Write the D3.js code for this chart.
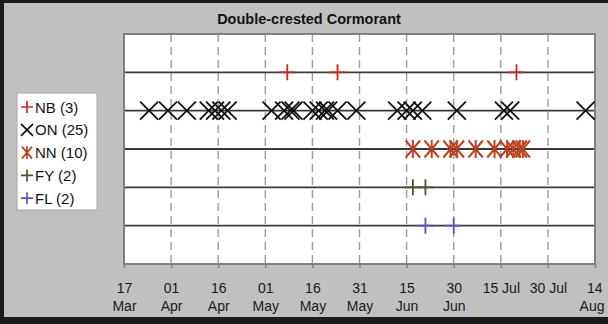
<!DOCTYPE html>
<html><head><meta charset="utf-8">
<script src="https://cdn.jsdelivr.net/npm/d3@7"></script>
<style>html,body{margin:0;padding:0;background:#c0c0c0;overflow:hidden;}svg{display:block;font-family:"Liberation Sans",Arial,sans-serif;}</style>
</head><body>
<script>
// ---- data ----
const title = "Double-crested Cormorant";
const categories = ["NB", "ON", "NN", "FY", "FL"];
const nbDates = ["2013-05-08", "2013-05-24", "2013-07-20"];
const onDates = ["2013-03-25", "2013-03-31", "2013-04-06", "2013-04-13", "2013-04-15", "2013-04-17", "2013-04-19",
  "2013-05-03", "2013-05-07", "2013-05-09", "2013-05-10", "2013-05-16", "2013-05-18", "2013-05-20", "2013-05-21",
  "2013-05-24", "2013-05-30", "2013-06-12", "2013-06-15", "2013-06-17", "2013-06-20", "2013-07-01", "2013-07-16",
  "2013-07-18", "2013-08-11"];
const nnDates = ["2013-06-17", "2013-06-23", "2013-06-29", "2013-07-01", "2013-07-07", "2013-07-13", "2013-07-17",
  "2013-07-19", "2013-07-21", "2013-07-22"];
const fyDates = ["2013-06-17", "2013-06-21"];
const flDates = ["2013-06-21", "2013-06-30"];
const tickDates = ["2013-03-17", "2013-04-01", "2013-04-16", "2013-05-01", "2013-05-16", "2013-05-31",
  "2013-06-15", "2013-06-30", "2013-07-15", "2013-07-30", "2013-08-14"];
const tickLine1 = ["17", "01", "16", "01", "16", "31", "15", "30", "15 Jul", "30 Jul", "14"];
const tickLine2 = ["Mar", "Apr", "Apr", "May", "May", "May", "Jun", "Jun", "", "", "Aug"];

// ---- styles ----
const seriesStyle = {
  NB: {dates: nbDates, color: "#c42a2a", shape: "plus"},
  ON: {dates: onDates, color: "#111111", shape: "x"},
  NN: {dates: nnDates, color: "#bd4320", shape: "star"},
  FY: {dates: fyDates, color: "#4b5327", shape: "plus"},
  FL: {dates: flDates, color: "#6a4cc0", shape: "plus"}
};
const W = 608, H = 324;
const M = {left: 124, right: 595, top: 34, bottom: 264};
const parse = d3.utcParse("%Y-%m-%d");

const svg = d3.select("body").append("svg").attr("width", W).attr("height", H);
svg.append("rect").attr("width", W).attr("height", H).attr("fill", "#c0c0c0");
// dark frame edges
svg.append("rect").attr("x", 0).attr("y", 0).attr("width", W).attr("height", 3).attr("fill", "#1c1c1c");
svg.append("rect").attr("x", 0).attr("y", 0).attr("width", 4).attr("height", H).attr("fill", "#1c1c1c");
svg.append("rect").attr("x", 0).attr("y", 317).attr("width", W).attr("height", 7).attr("fill", "#1c1c1c");

const x = d3.scaleUtc().domain([parse(tickDates[0]), parse(tickDates[tickDates.length - 1])]).range([M.left, M.right]);
const y = d3.scalePoint().domain(categories).range([M.top, M.bottom]).padding(1);

svg.append("rect").attr("x", M.left).attr("y", M.top).attr("width", M.right - M.left).attr("height", M.bottom - M.top)
  .attr("fill", "#ffffff");

// vertical dashed gridlines
const ticks = tickDates.map(parse);
svg.append("g").selectAll("line").data(ticks.slice(1, -1)).join("line")
  .attr("x1", d => x(d)).attr("x2", d => x(d)).attr("y1", M.top).attr("y2", M.bottom)
  .attr("stroke", "#9c9c9c").attr("stroke-width", 1.4).attr("stroke-dasharray", "8,5");

// x axis ticks and labels
const xAxis = d3.axisBottom(x).tickValues(ticks).tickSize(4).tickFormat("");
const ax = svg.append("g").attr("transform", `translate(0,${M.bottom})`).call(xAxis);
ax.select(".domain").remove();
ax.selectAll(".tick line").attr("stroke", "#7f7f7f").attr("stroke-width", 1.5);
ax.selectAll(".tick").each(function(d, i) {
  const g = d3.select(this);
  const last = i === tickDates.length - 1;
  const px = x(d);
  const shift = last ? (W - 4) - px : 0;
  g.append("text").attr("x", last ? shift - 2 : 0).attr("y", 29)
    .attr("text-anchor", last ? "end" : "middle").attr("fill", "#1a1a1a")
    .attr("font-size", 14).text(tickLine1[i]);
  g.append("text").attr("x", last ? shift : 0).attr("y", 47)
    .attr("text-anchor", last ? "end" : "middle").attr("fill", "#1a1a1a")
    .attr("font-size", 14).text(tickLine2[i]);
});

// horizontal row lines
svg.append("g").selectAll("line").data(categories).join("line")
  .attr("x1", M.left).attr("x2", M.right).attr("y1", d => y(d)).attr("y2", d => y(d))
  .attr("stroke", "#3a3a3a").attr("stroke-width", 1.8);

// plot border
svg.append("rect").attr("x", M.left).attr("y", M.top).attr("width", M.right - M.left).attr("height", M.bottom - M.top)
  .attr("fill", "none").attr("stroke", "#808080").attr("stroke-width", 2);

function shapePath(shape, s) {
  if (shape === "plus") return `M${-s},0H${s}M0,${-s}V${s}`;
  if (shape === "x") return `M${-s},${-s}L${s},${s}M${-s},${s}L${s},${-s}`;
  const w = s * 0.85;
  return `M${-w},${-s}L${w},${s}M${-w},${s}L${w},${-s}M0,${-s * 1.05}V${s * 1.05}`;
}
const sizes = {plus: 8, x: 9, star: 8.5};

categories.forEach(cat => {
  const st = seriesStyle[cat];
  svg.append("g").selectAll("path").data(st.dates.map(parse)).join("path")
    .attr("transform", d => `translate(${x(d)},${y(cat)})`)
    .attr("d", shapePath(st.shape, sizes[st.shape]))
    .attr("fill", "none").attr("stroke", st.color).attr("stroke-width", st.shape === "star" ? 2 : 1.8);
});

// title
svg.append("text").attr("x", 309).attr("y", 24).attr("text-anchor", "middle").attr("font-weight", "bold")
  .attr("font-size", 14.5).attr("fill", "#111").text(title);

// legend
const lg = svg.append("g");
lg.append("rect").attr("x", 17).attr("y", 93).attr("width", 80).attr("height", 117)
  .attr("fill", "#ffffff").attr("stroke", "#a8a8a8").attr("stroke-width", 1);
const legendSizes = {plus: 6, x: 6, star: 6};
categories.forEach((cat, i) => {
  const st = seriesStyle[cat];
  const cy = 107 + i * 22.8;
  lg.append("path").attr("transform", `translate(27,${cy})`)
    .attr("d", shapePath(st.shape, legendSizes[st.shape]))
    .attr("fill", "none").attr("stroke", st.color).attr("stroke-width", 1.7);
  lg.append("text").attr("x", 35).attr("y", cy + 5.5).attr("font-size", 15).attr("fill", "#111")
    .text(`${cat} (${st.dates.length})`);
});
</script>
</body></html>
